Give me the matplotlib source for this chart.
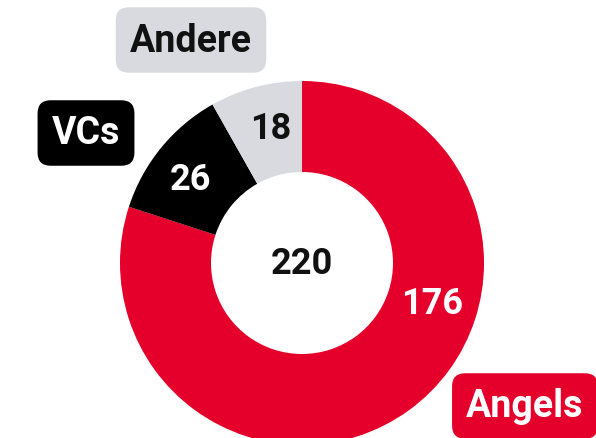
import matplotlib
matplotlib.use("Agg")
import matplotlib.pyplot as plt
import numpy as np

categories = ["Angels", "VCs", "Andere"]
values = [176, 26, 18]
total_label = "220"
colors = ["#E4002B", "#000000", "#D9DAE0"]
value_colors = ["white", "white", "#111111"]
cat_text_colors = ["white", "white", "#111111"]

plt.rcParams['font.family'] = ['Roboto', 'DejaVu Sans']

W, H = 596, 439
fig = plt.figure(figsize=(W / 100, H / 100), dpi=100)
ax = fig.add_axes([0, 0, 1, 1])
ax.set_xlim(0, W)
ax.set_ylim(H, 0)
ax.set_aspect('equal')
ax.axis('off')

cx, cy = 302, 264
R = 182
width = 91

# y axis inverted -> counterclock=True draws clockwise on screen
ax.pie(values, colors=colors, startangle=-90, counterclock=True,
       center=(cx, cy), radius=R, frame=True,
       wedgeprops=dict(width=width, linewidth=0))
ax.set_xlim(0, W)
ax.set_ylim(H, 0)
ax.axis('off')

# value labels
val_pos = [(432, 304), (190, 180), (271, 129)]
for v, (x, y), c in zip(values, val_pos, value_colors):
    ax.text(x, y, str(v), ha='center', va='center', fontsize=26,
            fontweight='bold', color=c)

ax.text(cx, cy, total_label, ha='center', va='center', fontsize=26,
        fontweight='bold', color='#111111')

# category labels
cat_pos = [(525, 407), (86, 134), (191, 41)]
for name, (x, y), bc, tc in zip(categories, cat_pos, colors, cat_text_colors):
    ax.text(x, y, name, ha='center', va='center', fontsize=27,
            fontweight='bold', color=tc,
            bbox=dict(boxstyle='round,pad=0.38,rounding_size=0.35',
                      facecolor=bc, edgecolor='none'))

fig.savefig("out.png", dpi=100)
